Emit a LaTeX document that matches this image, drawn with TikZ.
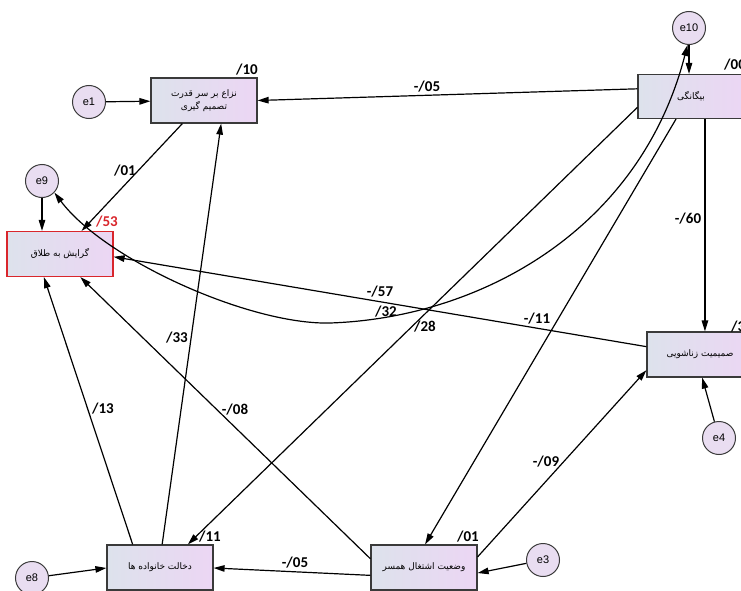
\documentclass[tikz,border=0pt]{standalone}
\usepackage{fontspec}
\setmainfont{Liberation Sans}
\newfontfamily\arabicfont[Script=Arabic]{DejaVu Sans}
\newfontfamily\labfont{Carlito}
\TeXXeTstate=1
\usetikzlibrary{arrows.meta,calc}
\definecolor{boxL}{HTML}{DDE2EC}
\definecolor{boxR}{HTML}{ECD6F4}
\definecolor{circF}{HTML}{E9DDF1}
\definecolor{edgeC}{HTML}{3A3A3A}
\definecolor{redC}{HTML}{D9262C}
\tikzset{
  var/.style={draw=edgeC, line width=1.2pt, left color=boxL, right color=boxR,
    minimum width=106pt, minimum height=45pt, inner sep=2pt, align=center,
    font=\arabicfont\fontsize{9}{13}\selectfont},
  err/.style={circle, draw=edgeC, line width=1pt, fill=circF, minimum size=33pt,
    inner sep=0pt, font=\fontsize{11}{13}\selectfont},
  arr/.style={-{Triangle[length=11pt,width=6.5pt]}, line width=1.2pt},
  darr/.style={{Triangle[length=11pt,width=6.5pt]}-{Triangle[length=11pt,width=6.5pt]}, line width=1.2pt},
  lab/.style={font=\labfont\bfseries\fontsize{15}{18}\selectfont, inner sep=0pt},
}
\begin{document}
\begin{tikzpicture}[x=1pt,y=-1pt]
\useasboundingbox (0,0) rectangle (741,591);
\fill[white] (0,0) rectangle (741,591);
\clip (0,0) rectangle (741,591);
% variables
\node[var] (box1) at (204,100.5) {{\beginR نزاع بر سر قدرت\endR}\\{\beginR تصمیم گیری\endR}};
\node[var, minimum height=44pt] (big) at (691,96.5) {\beginR بیگانگی\endR};
\node[var, draw=redC] (red) at (60,254) {\beginR گرایش به طلاق\endR};
\node[var] (sam) at (700,354.5) {\beginR صمیمیت زناشویی\endR};
\node[var] (dakh) at (160,567.5) {\beginR دخالت خانواده ها\endR};
\node[var] (vaz) at (424,567.5) {\beginR وضعیت اشتغال همسر\endR};
% errors
\node[err] (e1) at (89,102) {e1};
\node[err] (e10) at (689,28) {e10};
\node[err] (e9) at (42,181) {e9};
\node[err] (e4) at (719,438) {e4};
\node[err] (e8) at (32,578) {e8};
\node[err] (e3) at (543,560) {e3};
% connectors
\draw[arr] (e1) -- (box1);
\draw[arr] ($(big.north west)!0.33!(big.south west)$) -- (box1.east);
\draw[arr] (box1) -- (red);
\draw[arr] (e9) -- (e9 |- red.north);
\draw[arr] (e10) -- (e10 |- big.north);
\draw[darr] (e9.-43) .. controls (105,260) and (250,325) .. (330,323)
   .. controls (480,318) and (640,230) .. (e10.265);
\draw[arr] ($(big.north west)!0.74!(big.south west)$) -- ($(dakh.north west)!0.76!(dakh.north east)$);
\draw[arr] ($(big.south west)!0.36!(big.south east)$) -- ($(vaz.north west)!0.51!(vaz.north east)$);
\draw[arr] ($(big.south west)!0.63!(big.south east)$) coordinate (bs) -- (bs |- sam.north);
\draw[arr] ($(sam.north west)!0.33!(sam.south west)$) -- ($(red.north east)!0.56!(red.south east)$);
\draw[arr] (e4) -- ($(sam.south west)!0.52!(sam.south east)$);
\draw[arr] ($(vaz.north east)!0.27!(vaz.south east)$) -- ($(sam.north west)!0.84!(sam.south west)$);
\draw[arr] (e3) -- ($(vaz.north east)!0.62!(vaz.south east)$);
\draw[arr] ($(vaz.north west)!0.67!(vaz.south west)$) -- ($(dakh.north east)!0.51!(dakh.south east)$);
\draw[arr] (e8) -- ($(dakh.north west)!0.51!(dakh.south west)$);
\draw[arr] ($(dakh.north west)!0.245!(dakh.north east)$) -- ($(red.south west)!0.35!(red.south east)$);
\draw[arr] ($(dakh.north west)!0.52!(dakh.north east)$) -- ($(box1.south west)!0.66!(box1.south east)$);
\draw[arr] ($(vaz.north west)!0.31!(vaz.south west)$) -- ($(red.south west)!0.69!(red.south east)$);
% labels
\node[lab] (l10) at (247,70) {/10};
\node[lab, anchor=west] (l00) at (724,65) {/00};
\node[lab, text=redC] (l53) at (107,222) {/53};
\node[lab, anchor=west] (l3) at (731,327) {/3};
\node[lab] (l11) at (210,537) {/11};
\node[lab] (l01b) at (468,537) {/01};
\node[lab] (lm05a) at (427,87) {-/05};
\node[lab] (l01a) at (125,171) {/01};
\node[lab] (lm60) at (688,219) {-/60};
\node[lab] (lm57) at (380,292) {-/57};
\node[lab] (l32) at (386,312) {/32};
\node[lab] (l28) at (425,327) {/28};
\node[lab] (lm11) at (537,319) {-/11};
\node[lab] (l33) at (177,338) {/33};
\node[lab] (lm08) at (235,410) {-/08};
\node[lab] (l13) at (103,409) {/13};
\node[lab] (lm09) at (546,462) {-/09};
\node[lab] (lm05b) at (295,563) {-/05};
\end{tikzpicture}
\end{document}
